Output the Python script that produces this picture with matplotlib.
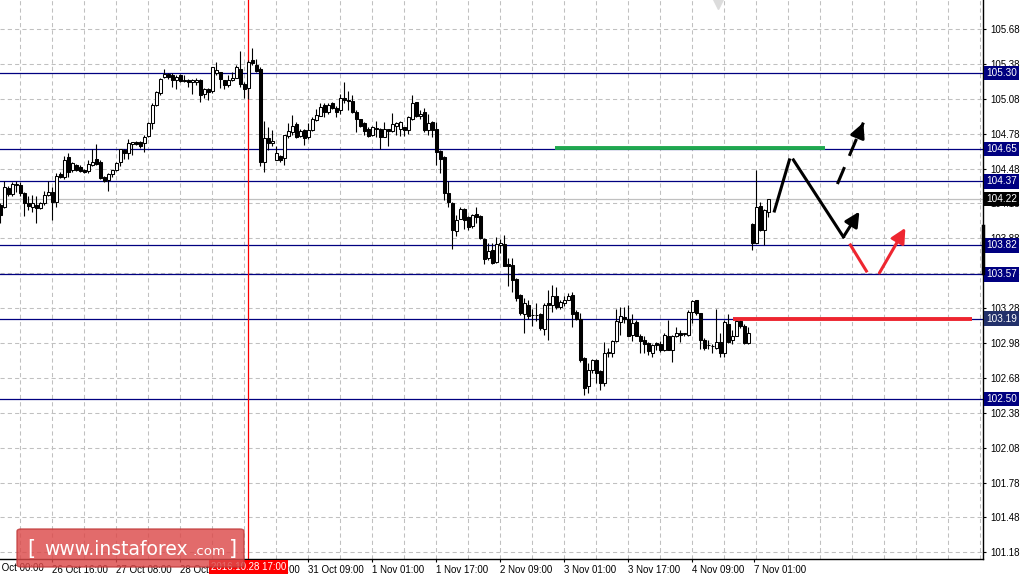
import matplotlib
matplotlib.use("Agg")
import matplotlib.pyplot as plt
import numpy as np
from matplotlib.patches import FancyBboxPatch

# hourly candles, one per bar (bar index = position on the chart)
opens = [104.17, 104.15, 104.31, 104.26, 104.34, 104.34, 104.27, 104.18, 104.15, 104.17,
         104.14, 104.18, 104.25, 104.28, 104.19, 104.43, 104.41, 104.58, 104.47, 104.51,
         104.49, 104.47, 104.46, 104.51, 104.56, 104.54, 104.41, 104.38, 104.43, 104.47,
         104.54, 104.64, 104.61, 104.69, 104.71, 104.71, 104.70, 104.76, 104.87, 105.03,
         105.13, 105.27, 105.29, 105.28, 105.24, 105.28, 105.24, 105.24, 105.22, 105.22,
         105.24, 105.12, 105.16, 105.15, 105.30, 105.31, 105.24, 105.20, 105.24, 105.26,
         105.34, 105.21, 105.17, 105.41, 105.37, 105.34, 104.54, 104.74, 104.70, 104.55,
         104.59, 104.57, 104.76, 104.79, 104.86, 104.76, 104.81, 104.75, 104.81, 104.90,
         104.93, 105.03, 104.97, 105.04, 105.00, 104.98, 105.09, 105.07, 105.06, 104.97,
         104.91, 104.87, 104.82, 104.77, 104.83, 104.82, 104.75, 104.82, 104.80, 104.85,
         104.82, 104.84, 104.81, 104.91, 105.05, 104.93, 104.97, 104.81, 104.88, 104.82,
         104.63, 104.58, 104.27, 104.18, 103.94, 104.05, 104.13, 104.06, 103.99, 104.09,
         104.07, 103.87, 103.71, 103.78, 103.68, 103.82, 103.83, 103.66, 103.65, 103.53,
         103.39, 103.23, 103.31, 103.22, 103.22, 103.23, 103.10, 103.32, 103.31, 103.38,
         103.29, 103.32, 103.35, 103.39, 103.25, 103.19, 102.85, 102.61, 102.75, 102.83,
         102.74, 102.64, 102.89, 102.89, 103.00, 103.16, 103.20, 103.19, 103.05, 103.16,
         103.04, 103.01, 102.98, 102.89, 102.98, 102.97, 102.92, 103.04, 102.92, 103.04,
         103.07, 103.06, 103.05, 103.25, 103.35, 103.24, 103.01, 102.96, 102.95, 102.94,
         102.99, 102.89, 103.14, 103.01, 103.04, 103.17, 103.13, 102.98, 104.00, 103.84,
         104.16, 103.95, 104.11]
highs = [104.18, 104.37, 104.33, 104.36, 104.37, 104.36, 104.28, 104.24, 104.25, 104.24,
         104.19, 104.29, 104.37, 104.32, 104.44, 104.45, 104.59, 104.61, 104.54, 104.52,
         104.51, 104.48, 104.55, 104.65, 104.69, 104.55, 104.42, 104.44, 104.47, 104.54,
         104.65, 104.65, 104.73, 104.71, 104.72, 104.72, 104.77, 104.88, 105.04, 105.15,
         105.26, 105.34, 105.30, 105.30, 105.28, 105.29, 105.28, 105.25, 105.25, 105.26,
         105.25, 105.17, 105.17, 105.35, 105.40, 105.31, 105.24, 105.28, 105.31, 105.37,
         105.49, 105.22, 105.41, 105.52, 105.42, 105.35, 104.89, 104.84, 104.81, 104.67,
         104.60, 104.77, 104.87, 104.94, 104.88, 104.82, 104.82, 104.87, 104.92, 104.99,
         105.04, 105.04, 105.04, 105.05, 105.02, 105.12, 105.22, 105.15, 105.11, 104.98,
         104.91, 104.88, 104.84, 104.85, 104.89, 104.83, 104.88, 104.82, 104.96, 104.88,
         104.89, 104.84, 104.93, 105.11, 105.05, 104.98, 105.00, 104.95, 104.89, 104.88,
         104.64, 104.59, 104.37, 104.19, 104.08, 104.15, 104.14, 104.07, 104.09, 104.15,
         104.08, 103.88, 103.84, 103.84, 103.89, 103.87, 103.91, 103.71, 103.71, 103.54,
         103.40, 103.37, 103.35, 103.27, 103.32, 103.24, 103.32, 103.44, 103.48, 103.46,
         103.35, 103.38, 103.41, 103.42, 103.26, 103.24, 102.86, 102.81, 102.84, 102.84,
         102.75, 102.99, 102.94, 103.01, 103.27, 103.29, 103.29, 103.31, 103.23, 103.18,
         103.06, 103.04, 102.99, 102.97, 102.99, 103.00, 103.07, 103.18, 103.05, 103.12,
         103.09, 103.07, 103.26, 103.35, 103.35, 103.24, 103.02, 103.01, 102.97, 103.27,
         103.07, 103.18, 103.23, 103.09, 103.19, 103.19, 103.14, 103.12, 104.01, 104.47,
         104.19, 104.13, 104.22]
lows = [104.01, 104.14, 104.24, 104.24, 104.28, 104.24, 104.07, 104.12, 104.11, 104.01,
        104.13, 104.17, 104.24, 104.04, 104.15, 104.40, 104.39, 104.41, 104.45, 104.46,
        104.45, 104.44, 104.44, 104.50, 104.51, 104.39, 104.36, 104.29, 104.41, 104.46,
        104.50, 104.56, 104.56, 104.60, 104.68, 104.66, 104.62, 104.75, 104.82, 105.02,
        105.11, 105.26, 105.25, 105.18, 105.16, 105.22, 105.22, 105.18, 105.12, 105.20,
        105.05, 105.09, 105.07, 105.13, 105.28, 105.17, 105.16, 105.18, 105.23, 105.26,
        105.18, 105.09, 105.08, 105.37, 105.31, 104.50, 104.45, 104.64, 104.67, 104.55,
        104.54, 104.51, 104.74, 104.77, 104.74, 104.75, 104.68, 104.73, 104.80, 104.89,
        104.93, 104.92, 104.95, 104.99, 104.92, 104.95, 105.04, 104.98, 104.96, 104.79,
        104.84, 104.77, 104.75, 104.76, 104.75, 104.65, 104.75, 104.67, 104.79, 104.77,
        104.76, 104.76, 104.78, 104.90, 104.92, 104.91, 104.79, 104.77, 104.75, 104.51,
        104.44, 104.21, 104.15, 103.79, 103.90, 104.05, 103.96, 103.95, 103.97, 104.01,
        103.87, 103.66, 103.69, 103.66, 103.67, 103.75, 103.64, 103.47, 103.42, 103.34,
        103.22, 103.07, 103.19, 103.13, 103.17, 103.09, 103.05, 103.01, 103.25, 103.27,
        103.27, 103.30, 103.35, 103.12, 103.18, 102.82, 102.53, 102.55, 102.72, 102.64,
        102.58, 102.61, 102.86, 102.86, 102.99, 103.05, 103.15, 103.04, 103.00, 103.04,
        102.89, 102.89, 102.88, 102.86, 102.92, 102.90, 102.91, 102.92, 102.82, 103.03,
        102.99, 103.04, 103.04, 103.15, 103.22, 102.93, 102.92, 102.93, 102.89, 102.93,
        102.86, 102.86, 102.98, 102.97, 103.04, 103.11, 102.97, 102.97, 103.78, 103.84,
        103.94, 103.82, 104.06]
closes = [104.08, 104.32, 104.26, 104.35, 104.35, 104.27, 104.18, 104.16, 104.18, 104.14,
          104.18, 104.25, 104.28, 104.19, 104.42, 104.41, 104.55, 104.45, 104.53, 104.47,
          104.46, 104.45, 104.52, 104.54, 104.52, 104.40, 104.37, 104.43, 104.47, 104.53,
          104.65, 104.61, 104.70, 104.71, 104.69, 104.67, 104.75, 104.87, 105.03, 105.14,
          105.25, 105.29, 105.27, 105.24, 105.27, 105.23, 105.23, 105.22, 105.24, 105.24,
          105.11, 105.16, 105.14, 105.35, 105.33, 105.25, 105.20, 105.24, 105.26, 105.35,
          105.21, 105.16, 105.40, 105.39, 105.32, 104.54, 104.74, 104.70, 104.72, 104.61,
          104.55, 104.77, 104.80, 104.85, 104.75, 104.80, 104.74, 104.81, 104.91, 104.94,
          105.01, 104.97, 105.03, 105.00, 104.97, 105.09, 105.07, 105.06, 104.97, 104.91,
          104.85, 104.80, 104.76, 104.84, 104.82, 104.75, 104.82, 104.80, 104.86, 104.87,
          104.88, 104.81, 104.92, 105.04, 104.93, 104.95, 104.81, 104.87, 104.81, 104.62,
          104.56, 104.27, 104.19, 103.95, 104.04, 104.13, 104.04, 103.98, 104.08, 104.06,
          103.88, 103.70, 103.77, 103.67, 103.83, 103.84, 103.64, 103.64, 103.52, 103.37,
          103.24, 103.32, 103.21, 103.22, 103.22, 103.11, 103.31, 103.31, 103.38, 103.29,
          103.33, 103.35, 103.38, 103.23, 103.19, 102.83, 102.59, 102.75, 102.83, 102.72,
          102.64, 102.89, 102.90, 103.00, 103.17, 103.21, 103.19, 103.04, 103.15, 103.04,
          103.00, 102.97, 102.91, 102.96, 102.96, 102.92, 103.05, 102.92, 103.04, 103.07,
          103.05, 103.06, 103.25, 103.34, 103.24, 103.01, 102.94, 102.96, 102.95, 102.99,
          102.89, 103.16, 102.99, 103.04, 103.17, 103.13, 102.98, 103.07, 103.84, 104.15,
          103.95, 104.12, 104.22]

# right price scale
price_ticks = [101.18, 101.48, 101.78, 102.08, 102.38, 102.68, 102.98, 103.28,
               103.58, 103.88, 104.18, 104.48, 104.78, 105.08, 105.38, 105.68]
levels = [105.30, 104.65, 104.37, 103.82, 103.57, 103.19, 102.50]
last_price = 104.22

# time scale (first label sits partly off the left edge)
first_tick = -3
first_label = "26 Oct 00:00"
time_ticks = [13, 29, 45, 61, 77, 93, 109, 125, 141, 157, 173, 188.5]
time_labels = ["26 Oct 16:00", "27 Oct 08:00", "28 Oct 00:00",
               "28 Oct 16:00", "31 Oct 09:00", "1 Nov 01:00", "1 Nov 17:00",
               "2 Nov 09:00", "3 Nov 01:00", "3 Nov 17:00", "4 Nov 09:00",
               "7 Nov 01:00"]
marker_bar = 62
marker_label = "2016.10.28 17:00"

# drawn levels and forecast paths (bar, price)
green_x = [138.75, 206.25]
green_y = [104.66, 104.66]
red_lvl_x = [183.25, 243.0]
red_lvl_y = [103.19, 103.19]
up_leg_x = [193.5, 197.25]
up_leg_y = [104.115, 104.554]
down_leg_x = [198.25, 210.75]
down_leg_y = [104.554, 103.892]
bounce_x = [210.75, 214.75]
bounce_y = [103.892, 104.11]
break_x = [209.25, 215.75]
break_y = [104.347, 104.875]
red_leg_x = [212.5, 216.5]
red_leg_y = [103.823, 103.599]
red_up_x = [219.75, 226.25]
red_up_y = [103.582, 103.97]

plt.rcParams['font.family'] = ['Liberation Sans', 'DejaVu Sans']

W, H = 1027, 580
fig = plt.figure(figsize=(W / 100, H / 100), dpi=100)
fig.patch.set_facecolor('white')
ax = fig.add_axes([0, 21 / H, 983 / W, 559 / H])

# grid
for gx in np.arange(5, 246, 8):
    ax.axvline(gx, color='#c0c0c0', lw=0.75, ls=(0, (4, 3)), zorder=1)
for gy in price_ticks:
    ax.axhline(gy, color='#c0c0c0', lw=0.75, ls=(0, (4, 3)), zorder=1)

# levels
for lv in levels:
    ax.axhline(lv, color='#000080', lw=0.9, zorder=2)
ax.axhline(last_price, color='#c0c0c0', lw=0.9, zorder=2)
ax.axvline(marker_bar, color='red', lw=0.9, zorder=2)

# candles
o = np.array(opens)
h = np.array(highs)
l = np.array(lows)
c = np.array(closes)
idx = np.arange(len(o))
up = c >= o
ax.vlines(idx, l, h, color='black', lw=0.8, zorder=3)
body_lo = np.minimum(o, c)
body_h = np.maximum(np.abs(c - o), 0.004)
ax.bar(idx, body_h, bottom=body_lo, width=0.6,
       color=np.where(up, 'white', 'black'), edgecolor='black',
       linewidth=0.75, zorder=4)

# analyst drawings
ax.plot(green_x, green_y, color='#1fa84f', lw=2.8, solid_capstyle='butt', zorder=5)
ax.plot(red_lvl_x, red_lvl_y, color='#ee2630', lw=2.8, solid_capstyle='butt', zorder=5)
ax.plot(up_leg_x, up_leg_y, color='black', lw=2.2, zorder=6)
ax.plot(down_leg_x, down_leg_y, color='black', lw=2.2, zorder=6)
ax.annotate('', xy=(bounce_x[1], bounce_y[1]), xytext=(bounce_x[0], bounce_y[0]),
            arrowprops=dict(arrowstyle='-|>', color='black', lw=2.2,
                            mutation_scale=22, shrinkA=0, shrinkB=0), zorder=6)
ax.plot(break_x, break_y, color='black', lw=2.2, dashes=(6, 4), zorder=6)
ax.annotate('', xy=(break_x[1], break_y[1]), xytext=(break_x[1] - 1.2, break_y[1] - 0.1),
            arrowprops=dict(arrowstyle='-|>', color='black', lw=2.2,
                            mutation_scale=22, shrinkA=0, shrinkB=0), zorder=6)
ax.plot(red_leg_x, red_leg_y, color='#ee2630', lw=2.2, zorder=6)
ax.annotate('', xy=(red_up_x[1], red_up_y[1]), xytext=(red_up_x[0], red_up_y[0]),
            arrowprops=dict(arrowstyle='-|>', color='#ee2630', lw=2.2,
                            mutation_scale=22, shrinkA=0, shrinkB=0), zorder=6)

# axes frame
for s in ['left', 'top']:
    ax.spines[s].set_visible(False)
for s in ['right', 'bottom']:
    ax.spines[s].set_color('black')
    ax.spines[s].set_linewidth(1.0)

ax.yaxis.tick_right()
ax.set_yticks(price_ticks)
ax.set_yticklabels(['%.2f' % p for p in price_ticks])
ax.tick_params(axis='y', length=2.5, width=0.8, pad=2.5, labelsize=7, colors='black')
ax.set_xticks(time_ticks)
ax.set_xticklabels(time_labels)
for t in ax.get_xticklabels():
    t.set_horizontalalignment('left')
ax.tick_params(axis='x', length=2.5, width=0.8, pad=1.5, labelsize=7, colors='black')

# limits last, so the tick setters cannot widen them
ax.set_xlim(-0.1, 245.65)
ax.set_ylim(101.123, 105.929)

xtr = ax.get_xaxis_transform()
ytr = ax.get_yaxis_transform()
ax.text(first_tick, -0.0075, first_label, transform=xtr, fontsize=7, ha='left',
        va='top', clip_on=False)

for lv in levels:
    fc = '#22306a' if lv == 103.19 else '#000080'
    ax.text(1.003, lv, '%.2f' % lv, transform=ytr, color='white', fontsize=7.2,
            va='center', ha='left', clip_on=False, zorder=10,
            bbox=dict(boxstyle='square,pad=0.22', fc=fc, ec='none'))
ax.text(1.003, last_price, '%.2f' % last_price, transform=ytr, color='white',
        fontsize=7.2, va='center', ha='left', clip_on=False, zorder=10,
        bbox=dict(boxstyle='square,pad=0.22', fc='black', ec='none'))
ax.plot([1.0, 1.0], [103.99, 103.58], transform=ytr, color='black', lw=2.5,
        clip_on=False, zorder=10)

ax.text(marker_bar, -0.0145, marker_label, transform=xtr, color='white', fontsize=7,
        va='center', ha='center', clip_on=False, zorder=10,
        bbox=dict(boxstyle='square,pad=0.2', fc='#ff0000', ec='none'))

# top scroll marker
ax.plot([179.5], [0.995], transform=xtr, marker='v', markersize=8,
        color='#dcdcdc', clip_on=False, zorder=10)

# watermark
box = FancyBboxPatch((17 / W, 13 / H), 227 / W, 38 / H,
                     boxstyle='round,pad=0,rounding_size=0.004',
                     transform=fig.transFigure, fc='#dc4a4a', ec='#c03a3a',
                     alpha=0.82, lw=1, zorder=20)
fig.patches.append(box)
fig.text(27 / W, 25 / H, '[', color='white', fontsize=15, family='DejaVu Sans',
         va='baseline', zorder=21)
fig.text(44 / W, 25 / H, 'www.instaforex', color='white', fontsize=13.5,
         family='DejaVu Sans', va='baseline', zorder=21)
fig.text(192 / W, 25 / H, '.com', color='white', fontsize=9.7,
         family='DejaVu Sans', va='baseline', zorder=21)
fig.text(229 / W, 25 / H, ']', color='white', fontsize=15, family='DejaVu Sans',
         va='baseline', zorder=21)

fig.savefig('out.png', dpi=100)
